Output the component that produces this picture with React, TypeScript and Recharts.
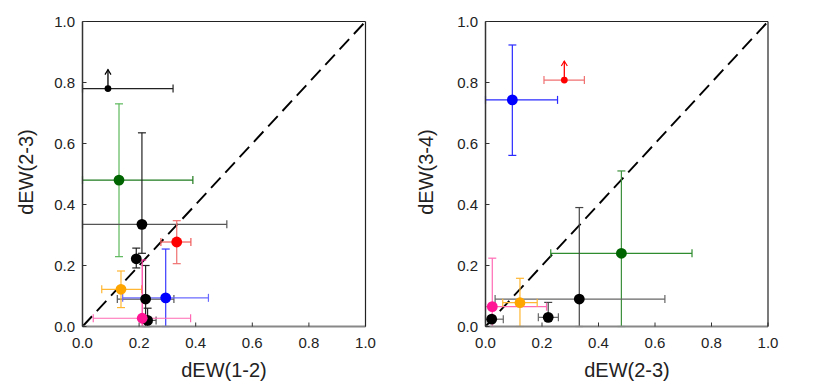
import { ScatterChart, Scatter, XAxis, YAxis, ErrorBar, ReferenceLine } from "recharts";

type Pt = { x: number; y: number; ex: [number, number]; ey: [number, number] };

const ticks = [0, 0.2, 0.4, 0.6, 0.8, 1.0];

// left panel: dEW(1-2) vs dEW(2-3)
const leftBlack: Pt[] = [
  { x: 0.21, y: 0.335, ex: [0.21, 0.3], ey: [0.095, 0.3] },
  { x: 0.19, y: 0.222, ex: [0.0, 0.0], ey: [0.03, 0.035] },
  { x: 0.223, y: 0.09, ex: [0.1, 0.1], ey: [0.09, 0.11] },
  { x: 0.23, y: 0.02, ex: [0.01, 0.03], ey: [0.02, 0.04] },
];
const leftBlackLimit: Pt[] = [{ x: 0.09, y: 0.78, ex: [0.09, 0.23], ey: [0, 0] }];
const leftGreen: Pt[] = [{ x: 0.129, y: 0.48, ex: [0.129, 0.261], ey: [0.251, 0.25] }];
const leftRed: Pt[] = [{ x: 0.333, y: 0.277, ex: [0.056, 0.05], ey: [0.071, 0.07] }];
const leftOrange: Pt[] = [{ x: 0.136, y: 0.122, ex: [0.068, 0.073], ey: [0.06, 0.06] }];
const leftBlue: Pt[] = [{ x: 0.294, y: 0.094, ex: [0.152, 0.151], ey: [0.094, 0.16] }];
const leftPink: Pt[] = [{ x: 0.211, y: 0.027, ex: [0.173, 0.171], ey: [0.027, 0.191] }];

// right panel: dEW(2-3) vs dEW(3-4)
const rightBlack: Pt[] = [
  { x: 0.332, y: 0.09, ex: [0.298, 0.303], ey: [0.09, 0.3] },
  { x: 0.222, y: 0.03, ex: [0.035, 0.036], ey: [0.0, 0.049] },
  { x: 0.022, y: 0.024, ex: [0.022, 0.041], ey: [0.0, 0.0] },
];
const rightRedLimit: Pt[] = [{ x: 0.279, y: 0.808, ex: [0.072, 0.071], ey: [0, 0] }];
const rightBlue: Pt[] = [{ x: 0.095, y: 0.743, ex: [0.095, 0.16], ey: [0.182, 0.18] }];
const rightGreen: Pt[] = [{ x: 0.481, y: 0.24, ex: [0.25, 0.25], ey: [0.24, 0.27] }];
const rightPink: Pt[] = [{ x: 0.024, y: 0.065, ex: [0.024, 0.192], ey: [0.065, 0.159] }];
const rightOrange: Pt[] = [{ x: 0.122, y: 0.078, ex: [0.061, 0.061], ey: [0.078, 0.08] }];

type Series = { data: Pt[]; fill: string; exColor: string; eyColor: string; limit?: boolean };

const leftSeries: Series[] = [
  { data: leftGreen, fill: "#006400", exColor: "#1e7b1e", eyColor: "#5cb85c" },
  { data: leftBlackLimit, fill: "#000", exColor: "#222", eyColor: "#222", limit: true },
  { data: leftBlack, fill: "#000", exColor: "#555", eyColor: "#222" },
  { data: leftRed, fill: "#ff0000", exColor: "#f05a5a", eyColor: "#f07070" },
  { data: leftOrange, fill: "#ffa500", exColor: "#ffb733", eyColor: "#ffb733" },
  { data: leftBlue, fill: "#0000ff", exColor: "#6a6aff", eyColor: "#3a3aff" },
  { data: leftPink, fill: "#ff1493", exColor: "#ff69b4", eyColor: "#ff3aa0" },
];

const rightSeries: Series[] = [
  { data: rightBlue, fill: "#0000ff", exColor: "#2a2aff", eyColor: "#2a2aff" },
  { data: rightRedLimit, fill: "#ff0000", exColor: "#f07070", eyColor: "#f07070", limit: true },
  { data: rightGreen, fill: "#006400", exColor: "#2e8b2e", eyColor: "#3c8f3c" },
  { data: rightBlack, fill: "#000", exColor: "#666", eyColor: "#444" },
  { data: rightPink, fill: "#ff1493", exColor: "#ff69b4", eyColor: "#ff69b4" },
  { data: rightOrange, fill: "#ffa500", exColor: "#ffb733", eyColor: "#ffb733" },
];

const font = "'Liberation Sans', Arial, sans-serif";

function Dot(props: any) {
  const { cx, cy, fill } = props;
  return <circle cx={cx} cy={cy} r={5.4} fill={fill} />;
}

function LimitDot(props: any) {
  const { cx, cy, fill } = props;
  const top = cy - 19;
  return (
    <g>
      <line x1={cx} x2={cx} y1={cy} y2={top} stroke={fill} strokeWidth={1.3} />
      <path d={`M${cx - 3},${top + 5} L${cx},${top} L${cx + 3},${top + 5}`} fill="none" stroke={fill} strokeWidth={1.2} />
      <circle cx={cx} cy={cy} r={3.4} fill={fill} />
    </g>
  );
}

function Panel({ series, left, right }: { series: Series[]; left: number; right: number }) {
  return (
    <ScatterChart
      width={409}
      height={388}
      margin={{ top: 20.5, right: right - 1, bottom: 21.5, left }}
    >
      <XAxis
        type="number"
        dataKey="x"
        domain={[0, 1]}
        ticks={ticks}
        allowDataOverflow
        height={40}
        tickSize={-4}
        tickMargin={15}
        tickFormatter={(v: number) => v.toFixed(1)}
        tick={{ fontSize: 15, fill: "#222", fontFamily: font }}
        axisLine={{ stroke: "#888", strokeWidth: 2 }}
        tickLine={{ stroke: "#333" }}
      />
      <XAxis
        xAxisId="top"
        orientation="top"
        type="number"
        domain={[0, 1]}
        ticks={ticks}
        height={1}
        tick={false}
        tickSize={-4}
        axisLine={{ stroke: "#222", strokeWidth: 1.2 }}
        tickLine={{ stroke: "#333" }}
      />
      <YAxis
        type="number"
        dataKey="y"
        domain={[0, 1]}
        ticks={ticks}
        allowDataOverflow
        width={60}
        tickSize={-4}
        tickMargin={11.5}
        tickFormatter={(v: number) => v.toFixed(1)}
        tick={{ fontSize: 15, fill: "#222", fontFamily: font }}
        axisLine={{ stroke: "#333", strokeWidth: 1.5 }}
        tickLine={{ stroke: "#333" }}
      />
      <YAxis
        yAxisId="right"
        orientation="right"
        type="number"
        domain={[0, 1]}
        ticks={ticks}
        width={1}
        tick={false}
        tickSize={-4}
        axisLine={{ stroke: "#222", strokeWidth: 1.2 }}
        tickLine={{ stroke: "#333" }}
      />
      <ReferenceLine
        segment={[{ x: 0, y: 0 }, { x: 1, y: 1 }]}
        stroke="#000"
        strokeWidth={1.9}
        strokeDasharray="14 7"
      />
      {series.map((s, i) => (
        <Scatter
          key={i}
          data={s.data}
          fill={s.fill}
          isAnimationActive={false}
          shape={s.limit ? LimitDot : Dot}
        >
          <ErrorBar dataKey="ex" direction="x" stroke={s.exColor} strokeWidth={1.2} width={4} isAnimationActive={false} />
          {!s.limit && (
            <ErrorBar dataKey="ey" direction="y" stroke={s.eyColor} strokeWidth={1.2} width={4} isAnimationActive={false} />
          )}
        </Scatter>
      ))}
    </ScatterChart>
  );
}

const titleStyle: React.CSSProperties = {
  position: "absolute",
  fontSize: 20,
  fontFamily: font,
  color: "#222",
  whiteSpace: "nowrap",
};

export default function App() {
  return (
    <div style={{ position: "absolute", left: 0, top: 0, width: 818, height: 388, background: "#fff" }}>
      <div style={{ position: "absolute", left: 0, top: 0 }}>
        <Panel series={leftSeries} left={22.5} right={43.5} />
      </div>
      <div style={{ position: "absolute", left: 409, top: 0 }}>
        <Panel series={rightSeries} left={16.5} right={50} />
      </div>
      <div style={{ ...titleStyle, left: 224, top: 370, transform: "translate(-50%, -50%)" }}>dEW(1-2)</div>
      <div style={{ ...titleStyle, left: 627, top: 370, transform: "translate(-50%, -50%)" }}>dEW(2-3)</div>
      <div style={{ ...titleStyle, left: 26, top: 172, transform: "translate(-50%, -50%) rotate(-90deg)" }}>dEW(2-3)</div>
      <div style={{ ...titleStyle, left: 426, top: 172, transform: "translate(-50%, -50%) rotate(-90deg)" }}>dEW(3-4)</div>
    </div>
  );
}
